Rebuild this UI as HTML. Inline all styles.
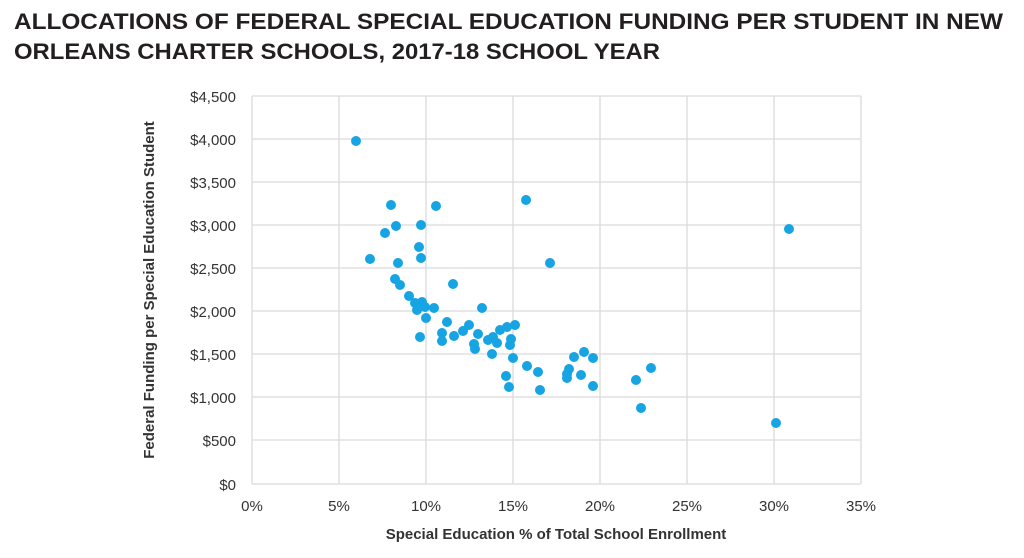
<!DOCTYPE html>
<html><head><meta charset="utf-8"><style>
html,body{margin:0;padding:0;background:#fff;}
svg{display:block;}
text{font-family:"Liberation Sans",sans-serif;}
</style></head><body>
<svg width="1024" height="558" viewBox="0 0 1024 558" xmlns="http://www.w3.org/2000/svg">
<rect width="1024" height="558" fill="#fff"/>
<text x="14" y="29" font-size="22" font-weight="bold" fill="#231f20" textLength="989" lengthAdjust="spacingAndGlyphs">ALLOCATIONS OF FEDERAL SPECIAL EDUCATION FUNDING PER STUDENT IN NEW</text>
<text x="14" y="59" font-size="22" font-weight="bold" fill="#231f20" textLength="646" lengthAdjust="spacingAndGlyphs">ORLEANS CHARTER SCHOOLS, 2017-18 SCHOOL YEAR</text>
<g stroke="#dadada" stroke-width="1.3">
<line x1="252" y1="96" x2="861" y2="96"/><line x1="252" y1="139" x2="861" y2="139"/>
<line x1="252" y1="182" x2="861" y2="182"/><line x1="252" y1="225" x2="861" y2="225"/>
<line x1="252" y1="268" x2="861" y2="268"/><line x1="252" y1="311" x2="861" y2="311"/>
<line x1="252" y1="354" x2="861" y2="354"/><line x1="252" y1="397" x2="861" y2="397"/>
<line x1="252" y1="440" x2="861" y2="440"/><line x1="252" y1="484" x2="861" y2="484"/>
<line x1="252" y1="96" x2="252" y2="484"/><line x1="339" y1="96" x2="339" y2="484"/>
<line x1="426" y1="96" x2="426" y2="484"/><line x1="513" y1="96" x2="513" y2="484"/>
<line x1="600" y1="96" x2="600" y2="484"/><line x1="687" y1="96" x2="687" y2="484"/>
<line x1="774" y1="96" x2="774" y2="484"/><line x1="861" y1="96" x2="861" y2="484"/>
</g>
<g font-size="15" fill="#333" text-anchor="end">
<text x="236" y="102">$4,500</text><text x="236" y="145">$4,000</text>
<text x="236" y="188">$3,500</text><text x="236" y="231">$3,000</text>
<text x="236" y="274">$2,500</text><text x="236" y="317">$2,000</text>
<text x="236" y="360">$1,500</text><text x="236" y="403">$1,000</text>
<text x="236" y="446">$500</text><text x="236" y="490">$0</text>
</g>
<g font-size="15" fill="#333" text-anchor="middle">
<text x="252" y="511">0%</text><text x="339" y="511">5%</text>
<text x="426" y="511">10%</text><text x="513" y="511">15%</text>
<text x="600" y="511">20%</text><text x="687" y="511">25%</text>
<text x="774" y="511">30%</text><text x="861" y="511">35%</text>
</g>
<text x="556" y="539" font-size="15" font-weight="bold" fill="#333" text-anchor="middle">Special Education % of Total School Enrollment</text>
<text transform="translate(154,290) rotate(-90)" font-size="15" font-weight="bold" fill="#333" text-anchor="middle">Federal Funding per Special Education Student</text>
<g fill="#16a4e3">
<circle cx="356" cy="141" r="5"/><circle cx="391" cy="205" r="5"/><circle cx="436" cy="206" r="5"/>
<circle cx="526" cy="200" r="5"/><circle cx="396" cy="226" r="5"/><circle cx="421" cy="225" r="5"/>
<circle cx="385" cy="233" r="5"/><circle cx="419" cy="247" r="5"/><circle cx="421" cy="258" r="5"/>
<circle cx="370" cy="259" r="5"/><circle cx="398" cy="263" r="5"/><circle cx="550" cy="263" r="5"/>
<circle cx="395" cy="279" r="5"/><circle cx="400" cy="285" r="5"/><circle cx="453" cy="284" r="5"/>
<circle cx="409" cy="296" r="5"/><circle cx="415" cy="303" r="5"/><circle cx="422" cy="302" r="5"/>
<circle cx="417" cy="310" r="5"/><circle cx="425" cy="307" r="5"/><circle cx="434" cy="308" r="5"/>
<circle cx="482" cy="308" r="5"/><circle cx="426" cy="318" r="5"/><circle cx="447" cy="322" r="5"/>
<circle cx="469" cy="325" r="5"/><circle cx="515" cy="325" r="5"/><circle cx="507" cy="327" r="5"/>
<circle cx="500" cy="330" r="5"/><circle cx="463" cy="331" r="5"/><circle cx="442" cy="333" r="5"/>
<circle cx="478" cy="334" r="5"/><circle cx="454" cy="336" r="5"/><circle cx="420" cy="337" r="5"/>
<circle cx="493" cy="337" r="5"/><circle cx="511" cy="339" r="5"/><circle cx="488" cy="340" r="5"/>
<circle cx="442" cy="341" r="5"/><circle cx="497" cy="343" r="5"/><circle cx="474" cy="344" r="5"/>
<circle cx="510" cy="345" r="5"/><circle cx="475" cy="349" r="5"/><circle cx="492" cy="354" r="5"/>
<circle cx="513" cy="358" r="5"/><circle cx="527" cy="366" r="5"/><circle cx="538" cy="372" r="5"/>
<circle cx="506" cy="376" r="5"/><circle cx="509" cy="387" r="5"/><circle cx="540" cy="390" r="5"/>
<circle cx="574" cy="357" r="5"/><circle cx="584" cy="352" r="5"/><circle cx="593" cy="358" r="5"/>
<circle cx="569" cy="369" r="5"/><circle cx="567" cy="374" r="5"/><circle cx="567" cy="378" r="5"/>
<circle cx="581" cy="375" r="5"/><circle cx="593" cy="386" r="5"/>
<circle cx="789" cy="229" r="5"/><circle cx="776" cy="423" r="5"/><circle cx="651" cy="368" r="5"/>
<circle cx="636" cy="380" r="5"/><circle cx="641" cy="408" r="5"/>
</g>
</svg>
</body></html>
